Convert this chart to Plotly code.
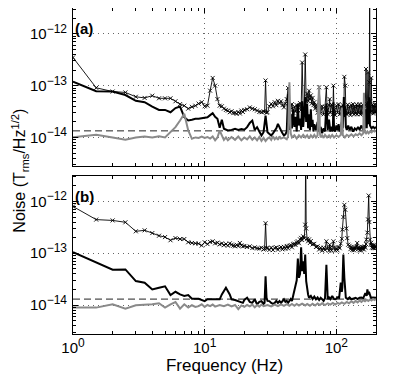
import numpy as np
import plotly.graph_objects as go
from plotly.subplots import make_subplots

# all noise values are in units of 1e-14 T_rms/Hz^1/2, pairs are (frequency Hz, noise)
UNIT = 1e-14

# ---- panel (a)
a_mark = [(1, 35), (1.5, 9.1), (2, 7.7), (2.5, 7.4), (3, 6.1), (3.5, 5.8), (4, 6.4), (4.5, 5.7),
          (5, 5.7), (5.5, 5.7), (6, 5.0), (6.5, 4.4), (7, 4.1), (7.5, 3.6), (8, 3.9), (8.5, 4.1),
          (9, 4.5), (9.5, 4.8), (10, 4.0), (10.5, 4.1), (11, 8.0), (11.5, 14.1), (12, 10.0), (12.5, 5.5),
          (13, 4.1), (13.5, 4.0), (14, 3.6), (14.5, 3.4), (15, 3.3), (15.5, 3.07), (16, 3.2), (16.5, 2.95),
          (17, 3.0), (17.5, 2.86), (18, 3.1), (18.5, 2.9), (19, 3.3), (19.5, 3.1), (20, 3.4), (21, 3.5),
          (22, 3.8), (23, 3.6), (24, 3.5), (25, 3.3), (26, 3.1), (27, 3.07), (28, 3.2), (28.5, 3.1),
          (29, 12.6), (29.5, 3.0), (30, 3.07), (31, 4.0), (32, 4.45), (33, 4.0), (34, 4.8), (35, 4.2),
          (36, 5.1), (37, 4.6), (38, 5.0), (39, 4.2), (40, 3.8), (41, 4.5), (42, 5.5), (43, 9.0),
          (44, 4.0), (45, 3.5), (46, 4.4), (47, 3.0), (48, 3.9), (49, 3.2), (50, 4.2), (51, 3.3),
          (52, 4.0), (53, 4.6), (54, 3.4), (55, 28), (56, 3.8), (57, 3.2), (58, 40), (59, 5.0),
          (60, 7.0), (61, 5.0), (62, 8.0), (63, 5.5), (64, 6.5), (65, 4.5), (66, 5.8), (67, 4.2),
          (68, 4.8), (69, 3.6), (70, 4.2), (72, 3.0), (74, 9.3), (75, 3.8), (76, 2.9), (78, 4.0),
          (80, 2.8), (82, 3.9), (84, 9.3), (85, 3.4), (86, 2.8), (88, 4.2), (89, 5.5), (90, 3.0),
          (92, 4.3), (94, 2.8), (95, 10), (96, 3.4), (98, 2.7), (100, 4.1), (102, 3.0), (104, 4.4),
          (106, 2.8), (108, 3.9), (110, 2.9), (112, 4.2), (114, 3.2), (115, 14.8), (117, 10), (118, 3.3),
          (120, 2.8), (122, 4.3), (124, 2.9), (126, 4.0), (128, 2.7), (130, 4.2), (132, 3.0), (134, 4.4),
          (136, 2.8), (138, 3.9), (140, 2.9), (142, 4.3), (144, 2.8), (146, 4.1), (148, 3.0), (150, 4.4),
          (152, 2.8), (154, 4.0), (156, 2.9), (158, 4.3), (160, 3.0), (162, 4.1), (164, 2.8), (166, 4.2),
          (168, 21), (170, 3.2), (172, 4.4), (174, 18), (176, 3.6), (178, 11.6), (179, 1000), (180, 5.0),
          (182, 3.0), (184, 14.1), (186, 3.2), (188, 4.3), (190, 2.9), (192, 4.1), (194, 3.0), (196, 4.4),
          (198, 3.1), (200, 4.0)]

a_thick = [(1, 12.0), (1.5, 7.8), (2, 7.7), (2.5, 6.6), (3, 5.1), (3.5, 4.8), (4, 3.95), (4.5, 3.4),
           (5, 3.4), (5.5, 3.07), (6, 3.7), (6.5, 3.95), (7, 2.46), (7.5, 2.12), (8, 2.2), (8.5, 2.3),
           (9, 2.3), (9.5, 2.35), (10, 2.4), (10.5, 2.46), (11, 2.7), (11.5, 2.94), (12, 2.5), (12.5, 2.3),
           (13, 1.54), (13.5, 2.19), (14, 1.47), (14.5, 1.4), (15, 1.36), (16, 1.4), (17, 1.47), (18, 1.4),
           (19, 1.45), (20, 1.41), (21, 1.58), (22, 1.9), (23, 2.12), (24, 1.4), (25, 1.58), (26, 1.3),
           (27, 1.09), (28, 1.26), (29, 2.65), (30, 1.26), (31, 1.15), (32, 1.09), (33, 1.2), (34, 1.36),
           (35, 1.5), (36, 1.83), (37, 1.5), (38, 1.36), (39, 1.2), (40, 1.09), (41, 1.15), (42, 1.3),
           (43, 7.0), (44, 1.4), (45, 2.8), (46, 1.5), (47, 3.5), (48, 1.6), (49, 2.5), (50, 1.3),
           (51, 4.5), (52, 1.7), (53, 2.3), (54, 1.4), (55, 5.0), (56, 1.6), (57, 3.0), (58, 6.0),
           (59, 2.0), (60, 4.5), (61, 1.5), (62, 2.8), (63, 1.4), (64, 3.5), (65, 1.6), (66, 2.2),
           (67, 1.3), (68, 1.8), (70, 1.4), (72, 2.0), (74, 1.3), (76, 1.6), (78, 1.2), (80, 1.5),
           (82, 1.3), (84, 4.5), (86, 1.4), (88, 2.2), (90, 1.3), (92, 1.6), (94, 1.3), (95, 4.8),
           (96, 1.5), (98, 1.3), (100, 1.7), (102, 1.4), (104, 1.8), (106, 1.3), (108, 1.6), (110, 2.0),
           (112, 1.5), (114, 6.0), (115, 2.5), (117, 4.0), (118, 1.6), (120, 1.4), (123, 1.7), (126, 1.4),
           (130, 1.6), (134, 1.3), (138, 1.5), (142, 1.4), (146, 1.6), (150, 1.4), (155, 1.7), (160, 1.4),
           (165, 1.6), (168, 3.5), (170, 1.5), (174, 5.0), (176, 1.8), (178, 6.0), (180, 1.7), (185, 1.5),
           (190, 1.6), (195, 1.5), (200, 1.6)]

a_gray = [(1, 1.01), (1.5, 1.13), (2, 1.0), (2.5, 0.9), (3, 1.0), (3.5, 1.04), (4, 1.0), (4.5, 1.05),
          (5, 1.0), (5.5, 1.26), (6, 1.58), (6.5, 2.12), (7, 2.86), (7.5, 1.36), (8, 0.94), (8.5, 1.0),
          (9, 0.98), (9.5, 1.04), (10, 0.98), (10.5, 1.02), (11, 0.95), (11.5, 1.04), (12, 0.88), (12.5, 1.0),
          (13, 1.36), (13.5, 1.1), (14, 0.9), (14.5, 1.0), (15, 0.88), (16, 1.02), (17, 0.9), (18, 1.04),
          (19, 0.88), (20, 1.0), (21, 0.92), (22, 1.05), (23, 0.9), (24, 1.0), (25, 0.88), (26, 1.02),
          (27, 0.86), (28, 0.98), (29, 0.85), (30, 0.95), (31, 1.0), (32, 0.9), (33, 1.05), (34, 0.92),
          (35, 1.0), (36, 0.9), (37, 1.05), (38, 0.95), (40, 1.0), (42, 0.92), (43, 1.05), (44, 11.6),
          (45, 1.2), (46, 1.0), (48, 1.1), (50, 0.95), (52, 1.1), (54, 1.0), (56, 1.12), (58, 1.0),
          (60, 1.1), (62, 0.95), (64, 1.1), (66, 1.0), (68, 1.12), (70, 1.0), (72, 1.1), (73, 5.0),
          (74, 10.0), (75, 1.2), (76, 1.0), (78, 1.1), (80, 0.98), (82, 1.12), (85, 1.0), (88, 1.1),
          (90, 1.0), (93, 1.12), (96, 1.0), (100, 1.1), (104, 1.02), (108, 1.12), (110, 3.8), (112, 1.1),
          (116, 1.0), (120, 1.12), (125, 1.05), (130, 1.15), (135, 1.05), (140, 1.15), (145, 1.1), (150, 1.2),
          (155, 1.1), (160, 1.2), (162, 7.3), (164, 1.3), (168, 1.2), (172, 1.3), (176, 1.2), (180, 1.3),
          (185, 1.25), (190, 1.35), (195, 1.3), (200, 1.36)]

a_floor = 1.34

# ---- panel (b)
b_mark = [(1, 80), (1.5, 44.6), (2, 43), (2.5, 39.6), (3, 26.5), (3.5, 27.7), (4, 24.5), (4.5, 21.8),
          (5, 20.5), (5.5, 17.8), (6, 19.6), (6.5, 18.8), (7, 18.8), (7.5, 16.3), (8, 15.8), (8.5, 15.5),
          (9, 15.3), (9.5, 14.1), (10, 16.3), (10.5, 15.0), (11, 16.5), (11.5, 17.0), (12, 15.5), (12.5, 16.0),
          (13, 14.8), (13.5, 15.5), (14, 14.3), (14.5, 15.0), (15, 14.0), (15.5, 15.5), (16, 14.6), (16.5, 14.0),
          (17, 13.6), (17.5, 14.5), (18, 13.8), (18.5, 15.8), (19, 14.2), (19.5, 13.5), (20, 13.8), (21, 13.2),
          (22, 13.6), (23, 12.6), (24, 13.0), (25, 12.4), (26, 12.3), (27, 12.8), (28, 11.8), (28.5, 12.2),
          (29, 38), (29.5, 12.6), (30, 12.6), (31, 11.6), (32, 12.9), (33, 11.5), (34, 12.6), (35, 13.0),
          (36, 11.7), (37, 12.6), (38, 13.2), (39, 11.9), (40, 13.3), (41, 12.2), (42, 13.8), (43, 12.4),
          (44, 13.9), (45, 14.4), (46, 13.0), (47, 14.9), (48, 15.3), (49, 14.4), (50, 16.2), (51, 17.0),
          (52, 15.6), (53, 18.5), (54, 19.8), (55, 18.0), (56, 21.2), (57, 19.5), (58, 35.6), (58.5, 1000),
          (59, 30), (60, 19), (61, 17.0), (62, 18.5), (63, 15.8), (64, 17.2), (66, 14.8), (68, 15.2),
          (70, 13.2), (72, 13.6), (74, 11.8), (76, 12.8), (78, 11.2), (80, 12.8), (82, 11.6), (84, 17.0),
          (86, 12.4), (88, 11.2), (89, 14.6), (90, 12.8), (92, 11.2), (95, 17.0), (96, 12.9), (98, 11.3),
          (100, 12.5), (102, 11.4), (104, 13.2), (106, 12.5), (108, 15.4), (110, 19.0), (111, 28.6), (113, 50),
          (115, 86), (117, 69), (119, 30), (121, 19.6), (123, 14.6), (126, 13.9), (128, 12.0), (130, 13.2),
          (132, 11.5), (134, 12.9), (136, 11.4), (138, 13.0), (140, 12.0), (142, 13.4), (144, 15.8), (146, 12.0),
          (148, 13.1), (150, 11.4), (152, 12.8), (154, 11.3), (156, 13.0), (158, 12.0), (160, 13.2), (162, 11.8),
          (164, 13.6), (166, 12.8), (168, 15.0), (169, 18.3), (172, 25), (174, 45), (176, 130), (178, 40),
          (180, 18.3), (182, 14.5), (184, 16), (186, 12.8), (188, 14.5), (190, 12.6), (192, 14.2), (194, 12.5),
          (196, 14.0), (198, 12.7), (200, 13.6)]

b_thick = [(1, 10.5), (2, 4.8), (2.5, 4.86), (3, 2.9), (3.5, 2.7), (4, 2.0), (4.5, 2.15), (5, 2.3),
           (5.5, 1.56), (6, 1.8), (6.5, 1.6), (7, 1.5), (7.5, 1.56), (8, 1.32), (9, 1.32), (9.5, 1.25),
           (10, 1.19), (10.5, 1.29), (11, 1.29), (12, 1.25), (13, 1.29), (13.5, 1.6), (14.5, 2.15), (15.5, 1.6),
           (16, 1.29), (17, 1.25), (18, 1.19), (19, 1.15), (19.5, 1.1), (20, 1.25), (21, 1.38), (22, 1.15),
           (23, 1.1), (24, 1.29), (25, 1.03), (26, 1.15), (27, 1.19), (28, 1.05), (28.5, 1.1), (29, 3.6),
           (29.5, 1.38), (30, 1.2), (31, 1.19), (32, 1.1), (33, 1.05), (34, 1.1), (35, 1.2), (36, 1.1),
           (37, 1.19), (38, 1.1), (39, 1.2), (40, 1.29), (41, 1.15), (42, 1.2), (43, 1.1), (44, 1.19),
           (45, 1.3), (46, 1.2), (47, 1.5), (48, 1.86), (49, 2.4), (50, 3.0), (51, 7.9), (52, 3.35),
           (53, 4.0), (54, 13), (55, 4.5), (56, 7.0), (57, 4.0), (58, 9.4), (59, 2.9), (60, 2.0),
           (61, 1.6), (62, 1.38), (64, 1.5), (66, 1.3), (68, 1.45), (70, 1.29), (72, 1.4), (74, 1.25),
           (76, 1.38), (78, 1.3), (80, 1.2), (82, 1.35), (84, 6.0), (86, 1.29), (88, 1.4), (90, 1.3),
           (93, 1.5), (96, 1.3), (99, 1.29), (102, 1.4), (105, 1.38), (108, 2.7), (110, 1.8), (111, 2.15),
           (113, 9.4), (115, 3.35), (118, 1.38), (122, 1.3), (126, 1.4), (130, 1.29), (135, 1.35), (140, 1.38),
           (145, 1.3), (150, 1.38), (155, 1.4), (160, 1.35), (166, 1.7), (170, 1.5), (172, 2.0), (175, 1.6),
           (177, 1.8), (180, 1.45), (183, 1.38), (190, 1.4), (195, 1.38), (200, 1.38)]

b_gray = [(1, 0.89), (1.5, 0.89), (2, 1.03), (2.5, 0.85), (3, 0.99), (3.5, 1.0), (4, 1.03), (4.5, 1.08),
          (5, 0.89), (5.5, 1.03), (6, 1.14), (6.5, 0.85), (7, 1.03), (7.5, 0.89), (8, 0.99), (8.5, 0.92),
          (9, 0.95), (9.5, 1.03), (10, 0.92), (10.5, 1.0), (11, 0.95), (11.5, 1.02), (12, 0.93), (13, 1.0),
          (14, 0.95), (15, 1.02), (16, 0.94), (17, 1.0), (18, 0.83), (19, 0.98), (20, 0.92), (21, 1.0),
          (22, 0.94), (23, 1.02), (24, 0.9), (25, 1.0), (26, 0.93), (27, 1.02), (28, 0.95), (30, 1.0),
          (32, 0.94), (34, 1.02), (36, 0.95), (38, 1.03), (40, 0.96), (42, 1.04), (44, 0.97), (46, 1.05),
          (48, 0.97), (50, 1.05), (52, 0.98), (55, 1.06), (58, 0.98), (60, 1.05), (63, 0.97), (66, 1.06),
          (69, 0.98), (72, 1.07), (75, 1.0), (78, 1.08), (82, 1.0), (86, 1.08), (90, 1.02), (94, 1.1),
          (98, 1.02), (102, 1.1), (106, 1.05), (110, 1.12), (115, 1.05), (120, 1.14), (125, 1.08), (130, 1.18),
          (135, 1.1), (140, 1.2), (145, 1.12), (150, 1.22), (155, 1.15), (160, 1.24), (165, 1.18), (170, 1.26),
          (175, 1.2), (180, 1.28), (185, 1.22), (190, 1.3), (195, 1.25), (200, 1.3)]

b_floor = 1.30

f_span = [1, 200]
x_ticks = [1, 10, 100]
x_exps = ["0", "1", "2"]
y_ticks = [1e-14, 1e-13, 1e-12]
y_exps = ["\u221214", "\u221213", "\u221212"]

GRAY = "#8a8a8a"
FONT = "Liberation Sans, Arial, sans-serif"


def split(pairs):
    f, v = zip(*pairs)
    return list(f), np.array(v) * UNIT


def pow10(exp):
    return "10<sup><span style='font-size:12px'>" + exp + "</span></sup>"


fig = make_subplots(rows=2, cols=1, vertical_spacing=0.028)

panels = [(a_mark, a_thick, a_gray, a_floor), (b_mark, b_thick, b_gray, b_floor)]
for row, (mark, thick, gray, floor) in enumerate(panels, start=1):
    # dashed reference level
    fig.add_trace(go.Scatter(x=f_span, y=[floor * UNIT] * 2, mode="lines",
                             line=dict(color="#222", width=1, dash="7px,4px")), row=row, col=1)
    fx, fv = split(mark)
    fig.add_trace(go.Scatter(x=fx, y=fv, mode="lines+markers",
                             line=dict(color="black", width=0.9),
                             marker=dict(symbol="x-thin", size=4, color="black",
                                         line=dict(width=0.9, color="black"))), row=row, col=1)
    fx, fv = split(thick)
    fig.add_trace(go.Scatter(x=fx, y=fv, mode="lines",
                             line=dict(color="black", width=2)), row=row, col=1)
    fx, fv = split(gray)
    fig.add_trace(go.Scatter(x=fx, y=fv, mode="lines",
                             line=dict(color=GRAY, width=2)), row=row, col=1)

x_minor = [2, 3, 4, 5, 6, 7, 8, 9, 20, 30, 40, 50, 60, 70, 80, 90, 200]
y_minor = [m * 10.0 ** e for e in (-15, -14, -13, -12) for m in range(2, 10)]

axis_common = dict(showline=True, linecolor="black", linewidth=1, mirror="allticks",
                   ticks="inside", ticklen=5, tickcolor="black",
                   showgrid=True, gridcolor="#666", griddash="1px,4px", gridwidth=1,
                   zeroline=False, tickfont=dict(family=FONT, size=15, color="black"))

for row in (1, 2):
    fig.update_xaxes(type="log", range=[0, np.log10(200)], tickvals=x_ticks,
                     ticktext=[pow10(e) for e in x_exps], showticklabels=(row == 2),
                     minor=dict(tickvals=x_minor, ticks="inside", ticklen=3, tickcolor="black",
                                showgrid=False),
                     row=row, col=1, **axis_common)
    fig.update_yaxes(type="log", range=[-14.56, -11.5], tickvals=y_ticks,
                     ticktext=[pow10(e) for e in y_exps], ticklabelstandoff=2,
                     minor=dict(tickvals=y_minor, ticks="inside", ticklen=3, tickcolor="black",
                                showgrid=False),
                     row=row, col=1, **axis_common)

fig.update_xaxes(title=dict(text="Frequency (Hz)", font=dict(family=FONT, size=17, color="black"),
                            standoff=2), row=2, col=1)

for label, ax in (("(a)", "y"), ("(b)", "y2")):
    xr = "x domain" if ax == "y" else "x2 domain"
    fig.add_annotation(text="<b>" + label + "</b>", xref=xr, yref=ax + " domain",
                       x=0.0, y=0.87, xanchor="left", yanchor="middle", showarrow=False,
                       font=dict(family=FONT, size=15, color="black"))

fig.add_annotation(text="Noise (T<sub>rms</sub>/Hz<sup>1/2</sup>)", xref="paper", yref="paper",
                   x=-0.176, y=0.5, xanchor="center", yanchor="middle", textangle=-90,
                   showarrow=False, font=dict(family=FONT, size=16, color="black"))

# the page body adds an 8 px offset, so the margins are shifted to land the frame where the reference has it
fig.update_layout(width=415, height=382, margin=dict(l=65, r=47, t=0, b=56),
                  paper_bgcolor="white", plot_bgcolor="white", showlegend=False,
                  font=dict(family=FONT, color="black"))

fig.write_html("out.html")
